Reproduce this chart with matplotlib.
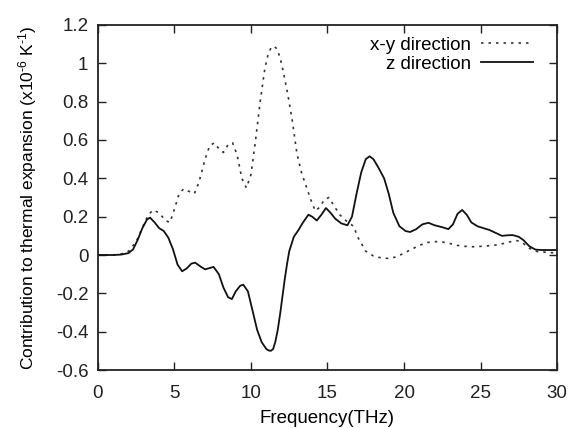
import matplotlib
matplotlib.use("Agg")
import matplotlib.pyplot as plt

# x-y direction (dotted)
freq_xy = [0, 1.0, 1.5, 2.0, 2.5, 3.0, 3.3, 3.6, 4.0, 4.4, 4.7, 5.0, 5.3, 5.6, 6.0, 6.3,
           6.6, 7.0, 7.3, 7.6, 8.0, 8.2, 8.5, 8.8, 9.1, 9.4, 9.7, 10.0, 10.3, 10.6, 10.9,
           11.1, 11.3, 11.5, 11.7, 11.9, 12.1, 12.4, 12.7, 13.0, 13.3, 13.6, 13.9, 14.2,
           14.5, 14.8, 15.1, 15.4, 15.8, 16.2, 16.7, 17.0, 17.5, 18.0, 18.5, 19.0, 19.5,
           20.0, 20.5, 21.0, 21.5, 22.0, 22.5, 23.0, 23.5, 24.0, 24.5, 25.0, 25.5, 26.0,
           26.5, 27.0, 27.4, 27.8, 28.2, 28.7, 29.2, 30.0]
cte_xy = [0, 0, 0.005, 0.02, 0.07, 0.16, 0.21, 0.235, 0.22, 0.18, 0.17, 0.24, 0.32, 0.345,
          0.33, 0.32, 0.38, 0.50, 0.57, 0.585, 0.545, 0.535, 0.575, 0.585, 0.52, 0.40, 0.35,
          0.42, 0.60, 0.80, 0.97, 1.04, 1.08, 1.09, 1.075, 1.03, 0.96, 0.84, 0.70, 0.53,
          0.43, 0.36, 0.29, 0.23, 0.25, 0.29, 0.30, 0.26, 0.21, 0.18, 0.15, 0.09, 0.02,
          -0.005, -0.015, -0.018, -0.01, 0.01, 0.03, 0.05, 0.065, 0.07, 0.068, 0.06, 0.05,
          0.045, 0.043, 0.045, 0.048, 0.052, 0.06, 0.07, 0.075, 0.06, 0.035, 0.018, 0.015,
          0.01]

# z direction (solid)
freq_z = [0, 1.0, 1.5, 2.0, 2.3, 2.6, 2.9, 3.2, 3.4, 3.7, 4.0, 4.3, 4.6, 4.9, 5.2, 5.5,
          5.8, 6.1, 6.35, 6.7, 7.0, 7.3, 7.55, 7.9, 8.2, 8.5, 8.75, 9.0, 9.3, 9.5, 9.8,
          10.1, 10.4, 10.7, 11.0, 11.15, 11.3, 11.45, 11.6, 11.75, 11.9, 12.05, 12.2,
          12.35, 12.5, 12.8, 13.1, 13.4, 13.75, 14.0, 14.3, 14.6, 14.9, 15.2, 15.5, 15.9,
          16.3, 16.6, 16.9, 17.2, 17.5, 17.75, 18.0, 18.3, 18.7, 19.0, 19.3, 19.7, 20.1,
          20.4, 20.8, 21.2, 21.6, 22.0, 22.5, 22.9, 23.2, 23.5, 23.8, 24.1, 24.4, 24.8,
          25.2, 25.6, 26.0, 26.4, 26.8, 27.1, 27.5, 27.8, 28.2, 28.6, 29.0, 30.0]
cte_z = [0, 0, 0.002, 0.01, 0.03, 0.08, 0.14, 0.185, 0.195, 0.17, 0.14, 0.125, 0.09, 0.03,
         -0.05, -0.085, -0.07, -0.045, -0.04, -0.06, -0.075, -0.068, -0.062, -0.10, -0.17,
         -0.22, -0.23, -0.19, -0.16, -0.155, -0.19, -0.29, -0.39, -0.455, -0.49, -0.498,
         -0.50, -0.49, -0.45, -0.39, -0.31, -0.22, -0.13, -0.05, 0.02, 0.095, 0.13, 0.17,
         0.21, 0.20, 0.18, 0.21, 0.245, 0.22, 0.19, 0.165, 0.155, 0.20, 0.32, 0.43, 0.50,
         0.515, 0.50, 0.46, 0.40, 0.32, 0.22, 0.15, 0.125, 0.12, 0.135, 0.16, 0.168, 0.155,
         0.145, 0.135, 0.16, 0.215, 0.235, 0.21, 0.17, 0.15, 0.14, 0.13, 0.115, 0.10,
         0.103, 0.104, 0.095, 0.078, 0.045, 0.028, 0.026, 0.026]

x_ticks = [0, 5, 10, 15, 20, 25, 30]
y_ticks = [-0.6, -0.4, -0.2, 0, 0.2, 0.4, 0.6, 0.8, 1, 1.2]
y_ticklabels = ["-0.6", "-0.4", "-0.2", "0", "0.2", "0.4", "0.6", "0.8", "1", "1.2"]

plt.rcParams['font.family'] = ['Liberation Sans', 'DejaVu Sans']
plt.rcParams['mathtext.fontset'] = 'custom'
plt.rcParams['mathtext.rm'] = 'Liberation Sans'
plt.rcParams['mathtext.it'] = 'Liberation Sans'
plt.rcParams['font.size'] = 13.5

fig = plt.figure(figsize=(5.71, 4.28), dpi=100)
ax = fig.add_axes([0.1716, 0.1355, 0.8039, 0.8061])

ax.plot(freq_xy, cte_xy, color='#333333', lw=1.2, ls=(0, (1.5, 3)), label='x-y direction')
ax.plot(freq_z, cte_z, color='#111111', lw=1.3, label='z direction')

ax.set_xlim(0, 30)
ax.set_ylim(-0.6, 1.2)
ax.set_xticks(x_ticks)
ax.set_yticks(y_ticks)
ax.set_yticklabels(y_ticklabels)
ax.tick_params(direction='in', length=6, width=1.0, top=True, right=True,
               colors='#222222', labelsize=13.5)
ax.tick_params(axis='x', pad=10.5)
ax.tick_params(axis='y', pad=7)
for sp in ax.spines.values():
    sp.set_linewidth(1.3)
    sp.set_color('#222222')

ax.set_xlabel('Frequency(THz)', labelpad=6)
ax.set_ylabel('Contribution to thermal expansion (x10$^{\\text{-6}}$ K$^{\\text{-1}}$)',
              labelpad=12, fontsize=12.5)

ax.legend(loc='upper right', markerfirst=False, frameon=False, handlelength=2.8,
          borderaxespad=0.3, labelspacing=0.1, handletextpad=0.5,
          bbox_to_anchor=(0.977, 1.005))

fig.savefig('out.png', dpi=100)
